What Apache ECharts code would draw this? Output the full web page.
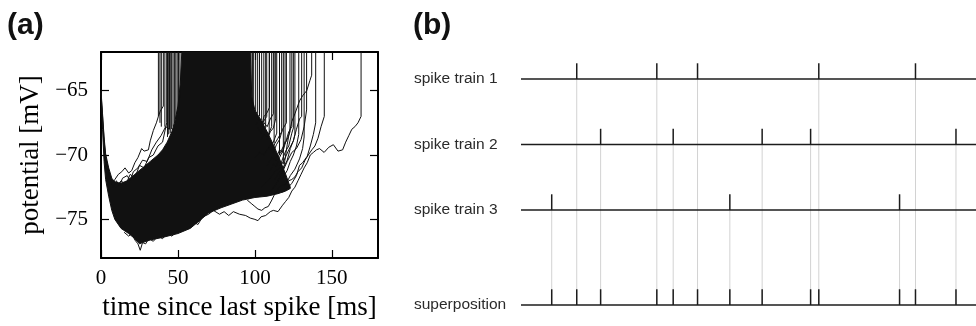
<!DOCTYPE html>
<html><head><meta charset="utf-8">
<script src="https://cdn.jsdelivr.net/npm/echarts@6/dist/echarts.min.js"></script>
<style>html,body{margin:0;padding:0;background:#fff}#c{width:976px;height:326px}</style>
</head><body><div id="c"></div><script>
// ---------- panel (a) data ----------
const xTicksA = [0, 50, 100, 150];
const yTicksA = [-75, -70, -65];
// envelope of the dense bundle of traces
const massLower = [[0,-65.2],[1,-68],[2,-70.5],[3,-71.9],[5,-73.2],[7,-74.3],[9,-75.0],[13,-75.7],[18,-76.1],[22,-76.5],[25,-76.9],[27,-76.8],[32,-76.6],[40,-76.4],[50,-76.1],[58,-75.7],[65,-75.0],[70,-74.5],[78,-74.1],[85,-73.8],[92,-73.5],[100,-73.3],[108,-73.2],[115,-73.0],[120,-72.8],[123,-72.6]];
const massUpper = [[0,-65.0],[1,-66.8],[2,-68.6],[3,-69.9],[5,-71.0],[7,-71.8],[9,-72.1],[13,-72.2],[17,-72.0],[22,-71.5],[27,-71.0],[32,-70.5],[37,-70.0],[40,-69.6],[43,-69.0],[46,-68.2],[48,-67.4],[50,-66.2],[51.5,-64.5],[52.5,-62],[97,-62],[98,-65.5],[100,-66.5],[104,-67.3],[108,-68.2],[112,-69.2],[116,-70.3],[120,-71.5],[123,-72.5]];
// spike onsets [time, voltage] of traces that jump to the top
const spikeOnsets = [[37.3,-67.0],[38.3,-67.5],[39.2,-67.8],[41.5,-67.8],[43.2,-68.6],[44.0,-68.4],[45.0,-68.3],[45.9,-68.0],[46.8,-67.8],[47.7,-67.5],[48.6,-67.2],[49.5,-66.8],[50.4,-66.4],[51.3,-65.5],
  [97.5,-65.8],[98.4,-66.0],[99.2,-66.3],[100.5,-66.6],[101.8,-66.8],[103.0,-67.0],[104.4,-67.3],[105.8,-67.6],[107.0,-67.9],[109.3,-68.4],[112.5,-69.1],[116.0,-70.0],[118.5,-70.7]];
// individual traces
const traceLong = [[70,-74.6],[73,-74.3],[77,-74.6],[80,-74.4],[83,-74.7],[86,-74.4],[90,-74.6],[94,-74.7],[97,-74.9],[100,-75.0],[102,-75.1],[104,-74.8],[107,-74.7],[110,-74.4],[112,-74.3],[115,-74.4],[118,-73.9],[120,-73.6],[122,-73.3],[124,-72.8],[126,-72.5],[128,-72.0],[130,-71.5],[132,-71.0],[134,-70.6],[136,-70.0],[138,-69.8],[140,-69.6],[142,-69.5],[145,-69.8],[148,-69.4],[151,-69.2],[154,-69.7],[157,-69.6],[159,-69.0],[161,-68.5],[163,-68.0],[165,-67.8],[167,-67.5],[169,-67.0],[169,-62]];
const trace2 = [[95,-73.5],[98,-73.8],[100,-74.0],[102,-74.2],[104.4,-74.3],[106.5,-74.1],[108.7,-74.0],[111,-73.5],[113,-73.0],[115.2,-72.6],[117,-72.4],[119.6,-72.3],[122,-72.0],[124,-71.9],[126,-71.7],[128,-71.3],[130.4,-71.0],[132.6,-70.4],[134.7,-70.0],[137,-69.6],[139,-69.3],[141,-68.7],[143,-67.8],[145.1,-67.0],[145.1,-62]];
const trace3 = [[104,-72.5],[107,-72.2],[110,-71.8],[113,-71.3],[116,-71.0],[119,-70.4],[122,-69.6],[125,-68.9],[127,-68.0],[129,-67.2],[130.4,-67.0],[130.4,-62]];
const trace4 = [[100,-70.2],[103,-69.8],[106,-70.0],[109,-69.4],[112,-69.0],[114.2,-68.3],[114.2,-62]];
const trace5 = [[104,-68.8],[106,-68.4],[108,-68.6],[110.9,-67.8],[110.9,-62]];
const trace6 = [[110,-72.8],[113,-72.4],[116,-71.8],[118,-71.3],[121,-70.5],[124,-69.8],[127,-69.5],[130,-68.8],[132,-67.8],[133.6,-66.5],[133.6,-62]];
const trace7 = [[112,-72.6],[115,-72.0],[117,-71.4],[119,-70.8],[120,-70.0],[121,-69.2],[122,-68.5],[124,-67.4],[126,-66.8],[129,-65.8],[131,-65.4],[133.7,-65.0],[135.8,-64.2],[136.9,-63.8],[136.9,-62]];
const trace8 = [[101,-67.6],[103,-67.2],[105,-67.5],[107.7,-67.0],[107.7,-62]];
const trace9 = [[108,-70.8],[111,-70.2],[114,-70.4],[117,-69.7],[119,-69.2],[121,-68.8],[122.8,-68.2],[122.8,-62]];
const trace10 = [[113,-71.9],[116,-71.3],[119,-70.9],[121,-70.4],[123,-69.5],[125,-68.9],[126,-68.4],[126,-62]];
const trace11 = [[106,-69.9],[109,-69.5],[111,-69.7],[113,-69.1],[115,-68.7],[117.4,-68.2],[117.4,-62]];
const trace12 = [[110,-71.2],[112,-70.7],[114,-70.9],[116,-70.2],[118,-69.7],[119.6,-68.9],[119.6,-62]];
const trace13 = [[118,-72.9],[121,-72.6],[124,-72.2],[127,-71.6],[129,-70.8],[131,-70.6],[134,-70.1],[136,-69.3],[138,-68.4],[139.5,-67.5],[139.5,-62]];
const fan1 = [[104,-67.8],[106,-67.0],[108,-66.7],[109.5,-66.3],[109.5,-62]];
const fan2 = [[108,-68.8],[110,-68.2],[112,-67.9],[113.5,-67.2],[113.5,-62]];
const fan3 = [[112,-69.8],[114,-69.2],[116,-68.8],[118,-68.0],[120.5,-67.5],[120.5,-62]];
const fan4 = [[116,-71.0],[118,-70.3],[120,-69.7],[122,-69.3],[124,-68.3],[125,-67.9],[125,-62]];
const fan5 = [[118,-71.8],[121,-71.2],[123,-70.5],[125,-70.0],[127,-69.3],[128.5,-68.4],[128.5,-62]];
const fan6 = [[120,-72.3],[123,-71.6],[126,-71.1],[129,-70.3],[131,-69.5],[132,-68.6],[132,-62]];
const fan7 = [[102,-67.9],[104,-68.3],[106,-67.5],[108,-67.8],[110,-67.2],[112,-66.8],[112,-62]];
const fan8 = [[114,-70.2],[116,-69.6],[118,-69.8],[120,-69.0],[122,-68.2],[124,-67.8],[124,-62]];
const traceEarly1 = [[0,-65.2],[1,-67.0],[2,-68.8],[3,-70.2],[5,-71.2],[7,-72.3],[9,-71.9],[11.3,-71.5],[13.5,-71.3],[15.6,-71.0],[18,-71.4],[20,-71.2],[22,-70.6],[24,-70.2],[26.4,-69.5],[28,-69.7],[30.8,-69.6],[32,-68.9],[34,-68.1],[36,-67.5],[37.3,-67.0],[38.5,-66.6],[40.5,-66.2],[40.5,-62]];
const traceEarly2 = [[5,-71.5],[8,-72.5],[10,-72.0],[12,-72.4],[14,-71.8],[17,-71.6],[19,-72.0],[21,-71.3],[24,-71.0],[27,-70.4],[30,-70.5],[33,-69.6],[36,-69.0],[39,-68.5],[42,-67.8],[44.5,-68.0],[44.5,-62]];
const traceEarly3 = [[10,-72.5],[13,-72.0],[16,-72.3],[19,-71.5],[22,-71.8],[25,-70.8],[28,-71.0],[31,-70.2],[34,-70.0],[37,-69.3],[40,-69.0],[42.7,-67.5],[42.7,-62]];
const traceLow1 = [[15,-76.0],[18,-76.3],[20,-76.1],[22,-76.6],[24,-76.9],[25.5,-77.4],[27,-76.8],[29,-76.9],[31,-76.5],[34,-76.7],[37,-76.3],[40,-76.5],[43,-76.1],[46,-76.3],[50,-75.9],[54,-75.8],[58,-75.4]];
const traceLow2 = [[40,-76.1],[44,-76.0],[48,-75.7],[52,-75.9],[56,-75.5],[60,-75.2],[63,-75.4],[66,-74.8],[70,-74.6]];
const traceLow3 = [[60,-75.0],[64,-74.9],[68,-74.2],[72,-74.0],[76,-73.6],[80,-73.9],[84,-73.4],[88,-73.6],[92,-73.2],[96,-73.4],[100,-73.0]];

// ---------- panel (b) data ----------
const trainNames = ['spike train 1', 'spike train 2', 'spike train 3', 'superposition'];
const train1 = [24.5, 59.7, 77.6, 130.9, 173.4];
const train2 = [35.0, 66.9, 106.0, 127.3, 191.2];
const train3 = [13.5, 91.8, 166.4];

// ---------- layout ----------
const yRangeA = [-78, -62];
const xRangeA = [0, 180];
const xRangeB = [0, 200];
const rowLevel = [0, 1, 2, 3.45];
const spikeHeight = 0.24;
const serif = 'Liberation Serif';
const sans = 'Liberation Sans';

const traces = [traceLong, trace2, trace3, trace4, trace5, trace6, trace7, trace8, trace9, trace10, trace11, trace12, trace13,
  fan1, fan2, fan3, fan4, fan5, fan6, fan7, fan8,
  traceEarly1, traceEarly2, traceEarly3, traceLow1, traceLow2, traceLow3];
const trains = [train1, train2, train3];
const superposition = trains.flat().slice().sort((a, b) => a - b);

const minusFmt = v => (v < 0 ? '\u2212' : '') + Math.abs(v);

const frameAxis = (extra) => Object.assign({
  type: 'value', gridIndex: 0,
  axisLine: { show: true, onZero: false, lineStyle: { color: '#000', width: 2 } },
  splitLine: { show: false }
}, extra);
const tickStyle = (vals) => ({ show: true, inside: true, length: 8, customValues: vals, lineStyle: { color: '#000', width: 1.2 } });

const traceSeries = traces.map(tr => ({
  type: 'line', xAxisIndex: 0, yAxisIndex: 0, data: tr, showSymbol: false, symbol: 'none',
  lineStyle: { color: '#111', width: 1 }, silent: true, clip: true, z: 3
}));

const gridBTop = 79 - 0.35 * 65.5;

const option = {
  animation: false,
  backgroundColor: '#fff',
  title: [
    { text: '(a)', left: 7, top: 11, padding: 0, textStyle: { fontFamily: sans, fontWeight: 'bold', fontSize: 30, color: '#111' } },
    { text: '(b)', left: 413, top: 11, padding: 0, textStyle: { fontFamily: sans, fontWeight: 'bold', fontSize: 30, color: '#111' } }
  ],
  grid: [
    { left: 101, top: 52, width: 277, height: 209 },
    { left: 521, right: 0, top: gridBTop, height: 3.8 * 65.5 }
  ],
  xAxis: [
    frameAxis({
      position: 'bottom', min: xRangeA[0], max: xRangeA[1],
      axisTick: tickStyle(xTicksA),
      axisLabel: { customValues: xTicksA, fontFamily: serif, fontSize: 21, color: '#000', margin: 10 },
      name: 'time since last spike [ms]', nameLocation: 'middle', nameGap: 36,
      nameTextStyle: { fontFamily: serif, fontSize: 27, color: '#000' }
    }),
    frameAxis({ position: 'top', min: xRangeA[0], max: xRangeA[1], axisTick: tickStyle(xTicksA), axisLabel: { show: false } }),
    { type: 'value', gridIndex: 1, min: xRangeB[0], max: xRangeB[1], show: false }
  ],
  yAxis: [
    frameAxis({
      position: 'left', min: yRangeA[0], max: yRangeA[1],
      axisTick: tickStyle(yTicksA),
      axisLabel: { customValues: yTicksA, formatter: minusFmt, fontFamily: serif, fontSize: 21, color: '#000', margin: 13 },
      name: 'potential [mV]', nameLocation: 'middle', nameGap: 57, nameRotate: 90,
      nameTextStyle: { fontFamily: serif, fontSize: 27, color: '#000' }
    }),
    frameAxis({ position: 'right', min: yRangeA[0], max: yRangeA[1], axisTick: tickStyle(yTicksA), axisLabel: { show: false } }),
    {
      type: 'value', gridIndex: 1, min: -0.35, max: 3.45, inverse: true,
      axisLine: { show: false }, axisTick: { show: false }, splitLine: { show: false },
      axisLabel: {
        customValues: rowLevel, formatter: v => trainNames[rowLevel.indexOf(v)],
        align: 'left', margin: 107, fontFamily: sans, fontSize: 15.5, color: '#2a2a2a'
      }
    }
  ],
  series: [
    {
      type: 'custom', xAxisIndex: 0, yAxisIndex: 0, data: [[0, 0]], silent: true, z: 2,
      renderItem: (params, api) => {
        const pts = massLower.map(p => api.coord(p)).concat(massUpper.slice().reverse().map(p => api.coord(p)));
        return { type: 'polygon', shape: { points: pts }, style: { fill: '#111', stroke: '#111', lineWidth: 1 } };
      }
    },
    {
      type: 'custom', xAxisIndex: 0, yAxisIndex: 0, data: spikeOnsets, silent: true, z: 3,
      renderItem: (params, api) => {
        const p0 = api.coord([api.value(0), api.value(1)]);
        const p1 = api.coord([api.value(0), yRangeA[1]]);
        return { type: 'line', shape: { x1: p0[0], y1: p0[1], x2: p1[0], y2: p1[1] }, style: { stroke: '#111', lineWidth: 1 } };
      }
    },
    ...traceSeries,
    {
      type: 'custom', xAxisIndex: 2, yAxisIndex: 2, silent: true, z: 1,
      data: trains.flatMap((tr, k) => tr.map(t => [t, k])),
      renderItem: (params, api) => {
        const k = api.value(1);
        const p0 = api.coord([api.value(0), rowLevel[k]]);
        const p1 = api.coord([api.value(0), rowLevel[3]]);
        return { type: 'line', shape: { x1: p0[0], y1: p0[1], x2: p1[0], y2: p1[1] }, style: { stroke: '#d2d2d2', lineWidth: 1 } };
      }
    },
    {
      type: 'custom', xAxisIndex: 2, yAxisIndex: 2, silent: true, z: 2,
      data: rowLevel.map((r, k) => [xRangeB[0], k]),
      renderItem: (params, api) => {
        const k = api.value(1);
        const p0 = api.coord([xRangeB[0], rowLevel[k]]);
        const p1 = api.coord([xRangeB[1], rowLevel[k]]);
        return { type: 'line', shape: { x1: p0[0], y1: p0[1], x2: p1[0], y2: p1[1] }, style: { stroke: '#1c1c1c', lineWidth: 1.5 } };
      }
    },
    {
      type: 'custom', xAxisIndex: 2, yAxisIndex: 2, silent: true, z: 3,
      data: trains.flatMap((tr, k) => tr.map(t => [t, k])).concat(superposition.map(t => [t, 3])),
      renderItem: (params, api) => {
        const k = api.value(1);
        const p0 = api.coord([api.value(0), rowLevel[k]]);
        const p1 = api.coord([api.value(0), rowLevel[k] - spikeHeight]);
        return { type: 'line', shape: { x1: p0[0], y1: p0[1], x2: p1[0], y2: p1[1] }, style: { stroke: '#1c1c1c', lineWidth: 1.5 } };
      }
    }
  ]
};
const chart = echarts.init(document.getElementById('c'), null, { renderer: 'canvas' });
chart.setOption(option);
</script></body></html>
